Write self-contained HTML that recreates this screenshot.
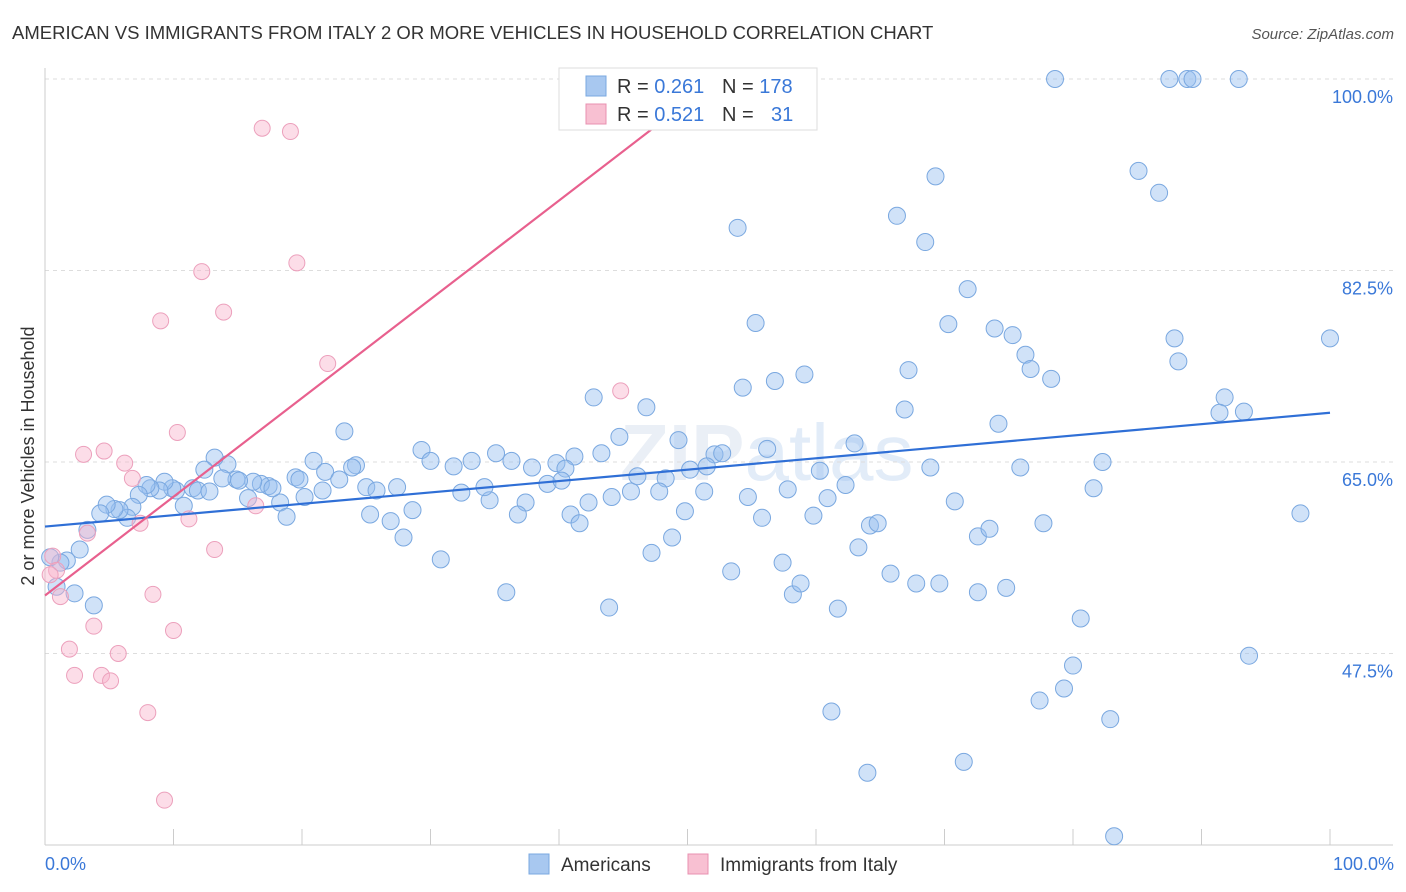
<!DOCTYPE html>
<html><head><meta charset="utf-8"><style>
body{margin:0;background:#fff;font-family:"Liberation Sans",sans-serif;}
svg{display:block}
</style></head><body>
<svg id="chart" width="1406" height="892">
<text x="12" y="39" font-size="18.5" fill="#333">AMERICAN VS IMMIGRANTS FROM ITALY 2 OR MORE VEHICLES IN HOUSEHOLD CORRELATION CHART</text>
<text x="1394" y="39" font-size="15" fill="#555" font-style="italic" text-anchor="end">Source: ZipAtlas.com</text>
<text x="0" y="0" transform="translate(34,456) rotate(-90)" font-size="18" fill="#333" text-anchor="middle">2 or more Vehicles in Household</text>
<text x="620" y="480" font-size="80" fill="#eaeff6" font-weight="bold">ZIP<tspan font-weight="normal" fill="#e2ecf8">atlas</tspan></text>
<g id="grid"></g><g id="axes"></g><g id="pts"></g><g id="lines"></g>
<g>
<rect x="559" y="68" width="258" height="62" fill="#fff" stroke="#ddd"/>
<rect x="586" y="76" width="20" height="20" fill="#a8c8f0" stroke="#7aa8e0"/>
<rect x="586" y="104" width="20" height="20" fill="#f8c0d2" stroke="#e890b0"/>
<text x="617" y="93" font-size="20" fill="#333">R = <tspan fill="#3a78d8">0.261</tspan><tspan x="722">N = </tspan><tspan fill="#3a78d8">178</tspan></text>
<text x="617" y="121" font-size="20" fill="#333">R = <tspan fill="#3a78d8">0.521</tspan><tspan x="722">N = </tspan><tspan fill="#3a78d8" x="771">31</tspan></text>
</g>
<g>
<rect x="529" y="854" width="20" height="20" fill="#a8c8f0" stroke="#7aa8e0"/>
<text x="561" y="871" font-size="19" fill="#333">Americans</text>
<rect x="688" y="854" width="20" height="20" fill="#f8c0d2" stroke="#e890b0"/>
<text x="720" y="871" font-size="19" fill="#333">Immigrants from Italy</text>
</g>
<text x="45" y="870" font-size="18" fill="#3a78d8">0.0%</text>
<text x="1394" y="870" font-size="18" fill="#3a78d8" text-anchor="end">100.0%</text>
</svg>
<script>
const yTicks=[100,82.5,65,47.5];
const yTickLabels=["100.0%","82.5%","65.0%","47.5%"];
const blueX=[78.6,87.5,88.9,89.3,92.9,69.3,85.1,86.7,66.3,68.5,53.9,71.8,55.3,70.3,73.9,75.3,76.3,76.7,78.3,87.9,88.2,100,67.2,56.8,59.1,54.3,42.7,46.8,66.9,74.2,91.8,91.4,93.3,23.3,44.7,49.3,63.0,56.2,52.1,52.7,35.1,41.2,43.3,29.3,30.0,31.8,33.2,36.3,37.9,39.8,40.5,39.1,40.2,46.1,48.3,50.2,51.5,60.3,68.9,75.9,82.3,81.6,62.3,57.8,54.7,51.3,47.8,45.6,44.1,42.3,37.4,34.6,32.4,34.2,25.0,25.8,27.4,28.6,25.3,26.9,27.9,30.8,35.9,36.8,40.9,41.6,43.9,47.2,48.8,49.8,53.4,55.8,57.4,58.2,58.8,59.8,60.9,61.7,63.3,64.2,64.8,65.8,67.8,69.6,70.8,72.6,73.5,72.6,74.8,77.7,80.6,80.0,79.3,77.4,82.9,61.2,64.0,71.5,83.2,93.7,97.7,20.9,21.8,24.2,23.9,22.9,21.6,20.2,19.5,19.8,18.3,18.8,17.4,16.8,17.7,16.2,15.8,14.9,15.1,14.2,13.2,13.8,12.4,11.5,11.9,10.8,10.2,9.9,9.3,8.9,8.2,7.9,7.3,6.8,6.4,5.8,5.4,4.8,4.3,3.3,2.7,1.7,1.2,0.4,0.9,2.3,3.8,12.8];
const blueY=[100,100,100,100,100,91.1,91.6,89.6,87.5,85.1,86.4,80.8,77.7,77.6,77.2,76.6,74.8,73.5,72.6,76.3,74.2,76.3,73.4,72.4,73.0,71.8,70.9,70.0,69.8,68.5,70.9,69.5,69.6,67.8,67.3,67.0,66.7,66.2,65.7,65.8,65.8,65.5,65.8,66.1,65.1,64.6,65.1,65.1,64.5,64.9,64.4,63.0,63.3,63.7,63.5,64.3,64.6,64.2,64.5,64.5,65.0,62.6,62.9,62.5,61.8,62.3,62.3,62.3,61.8,61.3,61.3,61.5,62.2,62.7,62.7,62.4,62.7,60.6,60.2,59.6,58.1,56.1,53.1,60.2,60.2,59.4,51.7,56.7,58.1,60.5,55.0,59.9,55.8,52.9,53.9,60.1,61.7,51.6,57.2,59.2,59.4,54.8,53.9,53.9,61.4,58.2,58.9,53.1,53.5,59.4,50.7,46.4,44.3,43.2,41.5,42.2,36.6,37.6,30.8,47.3,60.3,65.1,64.1,64.7,64.5,63.4,62.4,61.8,63.6,63.4,61.3,60.0,62.8,63.0,62.6,63.2,61.7,63.4,63.3,64.8,65.4,63.5,64.3,62.6,62.4,61.0,62.4,62.6,63.2,62.4,62.6,62.9,62.0,60.9,59.9,60.6,60.7,61.1,60.3,58.8,57.0,56.0,55.8,56.3,53.6,53.0,51.9,62.3];
const pinkX=[16.9,19.1,19.6,12.2,13.9,9.0,22.0,44.8,10.3,3.0,4.6,6.2,6.8,7.4,11.2,16.4,13.2,3.3,0.6,0.9,1.2,8.4,10.0,3.8,1.9,5.7,2.3,4.4,5.1,8.0,9.3,0.4];
const pinkY=[95.5,95.2,83.2,82.4,78.7,77.9,74.0,71.5,67.7,65.7,66.0,64.9,63.5,59.4,59.8,61.0,57.0,58.5,56.4,55.1,52.7,52.9,49.6,50.0,47.9,47.5,45.5,45.5,45.0,42.1,34.1,54.7];
const blueTrendX=[0,100], blueTrendY=[59.1,69.5];
const pinkTrendX=[0,50.2], pinkTrendY=[52.8,98.1];

const X0=45,X1=1330,Y0=79,PX=191.5/17.5;
const sx=v=>X0+(X1-X0)*v/100;
const sy=v=>Y0+(100-v)*PX;
const NS="http://www.w3.org/2000/svg";
function mk(parent,tag,attrs){const e=document.createElementNS(NS,tag);for(const k in attrs)e.setAttribute(k,attrs[k]);document.getElementById(parent).appendChild(e);return e;}
yTicks.forEach((t,i)=>{
  const g=mk('grid','line',{x1:45,x2:1393,y1:sy(t),y2:sy(t),stroke:'#ddd','stroke-dasharray':'4,4'});
  
  
  const l=mk('grid','text',{x:1393,y:sy(t)+24,'font-size':18,fill:'#3a78d8','text-anchor':'end'});
  l.textContent=yTickLabels[i];
  
  
});
let a=mk('axes','line',{x1:45,x2:45,y1:68,y2:845,stroke:'#ccc'});


a=mk('axes','line',{x1:45,x2:1393,y1:845,y2:845,stroke:'#ccc'});


for(let i=1;i<=10;i++){
  const t=mk('axes','line',{x1:sx(i*10),x2:sx(i*10),y1:829,y2:845,stroke:'#ccc'});
  
  
}
blueX.forEach((x,i)=>{
  const c=mk('pts','circle',{cx:sx(x),cy:sy(blueY[i]),r:8.5,fill:'rgba(150,190,240,0.45)',stroke:'#7aa8e0','stroke-width':1});
  
  
});
pinkX.forEach((x,i)=>{
  const c=mk('pts','circle',{cx:sx(x),cy:sy(pinkY[i]),r:8,fill:'rgba(248,180,205,0.45)',stroke:'#eca0bc','stroke-width':1});
  
  
});
let ln=mk('lines','line',{x1:sx(blueTrendX[0]),y1:sy(blueTrendY[0]),x2:sx(blueTrendX[1]),y2:sy(blueTrendY[1]),stroke:'#2f6fd6','stroke-width':2.2});


ln=mk('lines','line',{x1:sx(pinkTrendX[0]),y1:sy(pinkTrendY[0]),x2:sx(pinkTrendX[1]),y2:sy(pinkTrendY[1]),stroke:'#e8608e','stroke-width':2.2});


</script>
</body></html>
